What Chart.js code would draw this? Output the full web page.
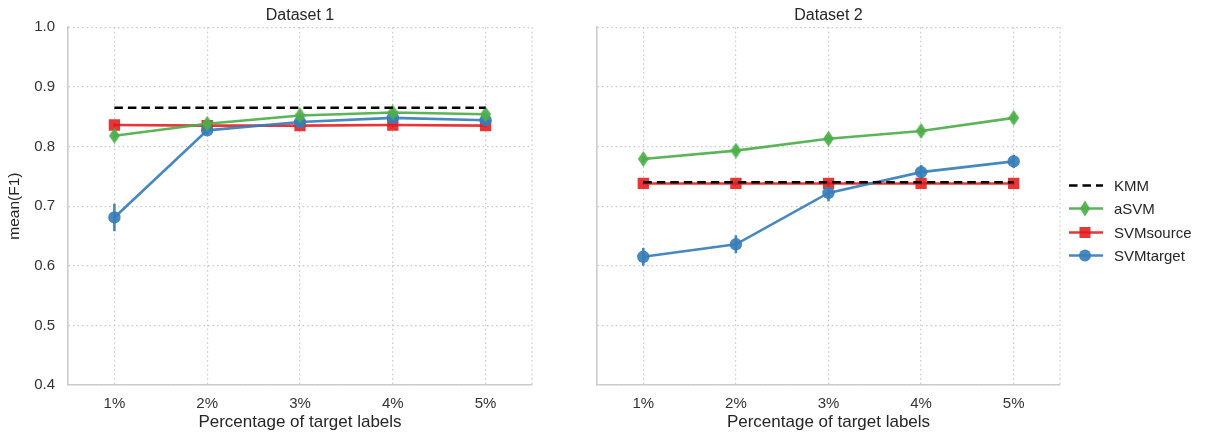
<!DOCTYPE html>
<html>
<head>
<meta charset="utf-8">
<script src="https://cdn.jsdelivr.net/npm/chart.js@4.4.0/dist/chart.umd.min.js"></script>
<style>
  html, body { margin: 0; padding: 0; background: #fff; }
  #wrap { position: relative; width: 1208px; height: 434px; overflow: hidden; font-family: "Liberation Sans", Arial, sans-serif; }
  canvas { position: absolute; top: 0; }
  #legend { position: absolute; left: 1068px; top: 174px; font-size: 15px; color: #262626; }
  .item { height: 23.3px; display: flex; align-items: center; }
  .item svg { margin-right: 10px; }
</style>
</head>
<body>
<div id="wrap">
  <canvas id="c1" width="545" height="434" style="left:0px;width:545px;height:434px"></canvas>
  <canvas id="c2" width="510" height="434" style="left:560px;width:510px;height:434px"></canvas>
  <div id="legend"></div>
</div>
<script>
// ---------- data ----------
const categories = ['1%', '2%', '3%', '4%', '5%'];
const yTicks = [0.4, 0.5, 0.6, 0.7, 0.8, 0.9, 1.0];
const seriesNames = ['KMM', 'aSVM', 'SVMsource', 'SVMtarget'];

// Dataset 1
const d1KMM       = [0.865, 0.865, 0.865, 0.865, 0.865];
const d1aSVM      = [0.818, 0.838, 0.852, 0.857, 0.854];
const d1SVMsource = [0.836, 0.835, 0.835, 0.836, 0.835];
const d1SVMtarget = [0.681, 0.827, 0.841, 0.848, 0.844];
const d1aSVMErr      = [0.006, 0.005, 0.004, 0.005, 0.004];
const d1SVMsourceErr = [0.003, 0.003, 0.003, 0.003, 0.003];
const d1SVMtargetErr = [0.023, 0.006, 0.006, 0.006, 0.005];

// Dataset 2
const d2KMM       = [0.740, 0.740, 0.740, 0.740, 0.740];
const d2aSVM      = [0.779, 0.793, 0.813, 0.826, 0.848];
const d2SVMsource = [0.738, 0.738, 0.738, 0.738, 0.738];
const d2SVMtarget = [0.615, 0.636, 0.722, 0.757, 0.775];
const d2aSVMErr      = [0.005, 0.005, 0.006, 0.005, 0.006];
const d2SVMsourceErr = [0.002, 0.002, 0.002, 0.002, 0.002];
const d2SVMtargetErr = [0.015, 0.015, 0.014, 0.012, 0.011];

// ---------- styles ----------
const FONT = '"Liberation Sans", Arial, sans-serif';
const GREEN = 'rgba(77,175,74,0.92)';
const RED = 'rgba(228,26,28,0.88)';
const BLUE = 'rgba(55,126,184,0.92)';
const GRID = '#c8c8c8';
const AXIS = '#cccccc';
const DOTS = [1.5, 3];

function diamond(color, w, h) {
  const c = document.createElement('canvas');
  c.width = w; c.height = h;
  const g = c.getContext('2d');
  g.fillStyle = color;
  g.beginPath();
  g.moveTo(w / 2, 0); g.lineTo(w, h / 2); g.lineTo(w / 2, h); g.lineTo(0, h / 2);
  g.closePath(); g.fill();
  return c;
}
const diamondImg = diamond(GREEN, 11, 16);

function makeDatasets(kmm, asvm, src, tgt, asvmE, srcE, tgtE) {
  return [
    { label: 'KMM', data: kmm, borderColor: '#000', borderWidth: 2.6, borderDash: [8.5, 5],
      pointRadius: 0, pointHoverRadius: 0, fill: false, err: null },
    { label: 'aSVM', data: asvm, borderColor: GREEN, backgroundColor: GREEN, borderWidth: 2.6,
      pointStyle: diamondImg, pointRadius: 7, fill: false, err: asvmE },
    { label: 'SVMtarget', data: tgt, borderColor: BLUE, backgroundColor: BLUE, borderWidth: 2.6,
      pointStyle: 'circle', pointRadius: 6.2, pointBorderWidth: 0, fill: false, err: tgtE },
    { label: 'SVMsource', data: src, borderColor: RED, backgroundColor: RED, borderWidth: 2.6,
      pointStyle: 'rect', pointRadius: 8, pointBorderWidth: 0, fill: false, err: srcE }
  ];
}

const errorBars = {
  id: 'errorBars',
  beforeDatasetsDraw(chart) {
    const ctx = chart.ctx, ys = chart.scales.y;
    chart.data.datasets.forEach((ds, i) => {
      if (!ds.err) return;
      const meta = chart.getDatasetMeta(i);
      ctx.save();
      ctx.strokeStyle = ds.borderColor;
      ctx.lineWidth = 2.6;
      meta.data.forEach((pt, j) => {
        const v = ds.data[j], e = ds.err[j];
        ctx.beginPath();
        ctx.moveTo(pt.x, ys.getPixelForValue(v - e));
        ctx.lineTo(pt.x, ys.getPixelForValue(v + e));
        ctx.stroke();
      });
      ctx.restore();
    });
  }
};

const rightBorder = {
  id: 'rightBorder',
  beforeDatasetsDraw(chart) {
    const {ctx, chartArea: a} = chart;
    ctx.save();
    ctx.strokeStyle = GRID; ctx.lineWidth = 1.2; ctx.setLineDash(DOTS);
    ctx.beginPath(); ctx.moveTo(a.right, a.top); ctx.lineTo(a.right, a.bottom); ctx.stroke();
    ctx.restore();
  }
};

function makeChart(id, title, datasets, showY, yWidth, padRight) {
  return new Chart(document.getElementById(id), {
    type: 'line',
    data: { labels: categories, datasets },
    plugins: [errorBars, rightBorder],
    options: {
      responsive: false, animation: false, devicePixelRatio: 1,
      layout: { padding: { left: 0, right: padRight, top: 0, bottom: 0 } },
      plugins: {
        legend: { display: false }, tooltip: { enabled: false },
        title: { display: true, text: title, fullSize: false, color: '#262626',
                 font: { family: FONT, size: 16, weight: 'normal' }, padding: { top: 6, bottom: 2 } }
      },
      elements: { line: { tension: 0 } },
      scales: {
        x: {
          type: 'category', offset: true,
          grid: { display: true, offset: false, color: GRID, lineWidth: 1.2, drawTicks: false },
          border: { display: true, color: AXIS, width: 1.6, dash: DOTS },
          ticks: { color: '#333', font: { family: FONT, size: 15 }, padding: 10 },
          title: { display: true, text: 'Percentage of target labels', color: '#262626',
                   font: { family: FONT, size: 17 }, padding: { top: 0, bottom: 1 } },
          afterFit(s) { s.height = 49; }
        },
        y: {
          min: 0.4, max: 1.0,
          afterBuildTicks(s) { s.ticks = yTicks.map(v => ({ value: v })); },
          grid: { color: GRID, lineWidth: 1.2, drawTicks: false },
          border: { display: true, color: AXIS, width: 1.6, dash: DOTS },
          ticks: { display: showY, color: '#333', font: { family: FONT, size: 15 }, padding: 13,
                   callback: v => Number(v).toFixed(1) },
          title: { display: showY, text: 'mean(F1)', color: '#262626',
                   font: { family: FONT, size: 15.5 }, padding: { top: 5, bottom: 0 } },
          afterFit(s) { s.width = yWidth; }
        }
      }
    }
  });
}

const ch1 = makeChart('c1', 'Dataset 1',
  makeDatasets(d1KMM, d1aSVM, d1SVMsource, d1SVMtarget, d1aSVMErr, d1SVMsourceErr, d1SVMtargetErr), true, 68, 13);
const ch2 = makeChart('c2', 'Dataset 2',
  makeDatasets(d2KMM, d2aSVM, d2SVMsource, d2SVMtarget, d2aSVMErr, d2SVMsourceErr, d2SVMtargetErr), false, 37, 10);

// ---------- legend ----------
const legendStyles = {
  KMM: { color: '#000', dash: '8.5,5', marker: '' },
  aSVM: { color: GREEN, dash: '', marker: '<polygon points="17,2.5 22,10.5 17,18.5 12,10.5" fill="' + GREEN + '"/>' },
  SVMsource: { color: RED, dash: '', marker: '<rect x="11.5" y="5" width="11" height="11" fill="' + RED + '"/>' },
  SVMtarget: { color: BLUE, dash: '', marker: '<circle cx="17" cy="10.5" r="6" fill="' + BLUE + '"/>' }
};
const leg = document.getElementById('legend');
seriesNames.forEach(n => {
  const s = legendStyles[n];
  const div = document.createElement('div');
  div.className = 'item';
  div.innerHTML = '<svg width="36" height="21" viewBox="0 0 36 21"><line x1="1" y1="10.5" x2="35" y2="10.5" stroke="' +
    s.color + '" stroke-width="2.6"' + (s.dash ? ' stroke-dasharray="' + s.dash + '"' : '') + '/>' + s.marker + '</svg><span>' + n + '</span>';
  leg.appendChild(div);
});
</script>
</body>
</html>
